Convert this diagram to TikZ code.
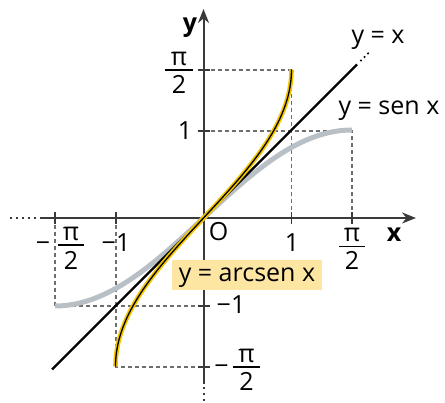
\documentclass[tikz,border=0pt]{standalone}
\usepackage{fontspec}
\setmainfont{Open Sans}
\usetikzlibrary{arrows.meta}
\definecolor{axisgray}{HTML}{3A3A3A}
\definecolor{guidegray}{HTML}{6E6E6E}
\definecolor{sinegray}{HTML}{B8BFC5}
\definecolor{arcyellow}{HTML}{F2C500}
\definecolor{labelyellow}{HTML}{FDE6A2}
\tikzset{
  axisline/.style={draw=axisgray, line width=2pt},
  axisdots/.style={draw=axisgray, line width=2pt, dash pattern=on 2pt off 4pt},
  guide/.style={draw=guidegray, line width=1.1pt, dash pattern=on 4pt off 3pt},
  tickmark/.style={draw=axisgray, line width=1.8pt},
  lbl/.style={inner sep=0pt, text=black},
  boldlbl/.style={inner sep=0pt, text=black, font=\fontsize{25}{29}\selectfont\bfseries},
  fracbar/.style={draw=black, line width=1.6pt},
  sinecurve/.style={draw=sinegray, line width=5pt},
  arccurve/.style={draw=arcyellow, line width=4.6pt},
  arccore/.style={draw=black, line width=1.3pt},
  idline/.style={draw=black, line width=2.2pt},
  iddots/.style={draw=black, line width=2.4pt, line cap=round, dash pattern=on 0pt off 5pt},
}
\begin{document}
\begin{tikzpicture}[x=1pt,y=-1pt,font=\fontsize{25}{29}\selectfont]
\useasboundingbox (0,0) rectangle (445,403);
% key points
\coordinate (O) at (203.5,218);
\coordinate (xa0) at (10,218);
\coordinate (xa1) at (37,218);
\coordinate (xa2) at (40,218);
\coordinate (xa3) at (416,218);
\coordinate (ya0) at (203.5,401);
\coordinate (ya1) at (203.5,387);
\coordinate (ya2) at (203.5,384);
\coordinate (ya3) at (203.5,9);
% guides
\coordinate (gA) at (203.5,70);
\coordinate (gB) at (291.5,70);
\coordinate (gC) at (291.5,218);
\coordinate (gD) at (203.5,131);
\coordinate (gE) at (352,131);
\coordinate (gF) at (352,218);
\coordinate (gG) at (55,218);
\coordinate (gH) at (55,306);
\coordinate (gI) at (203.5,306);
\coordinate (gJ) at (116,218);
\coordinate (gK) at (116,367);
\coordinate (gL) at (203.5,367);
\draw[guide] (gA) -- (gB) -- (gC);
\draw[guide] (gD) -- (gE) -- (gF);
\draw[guide] (gG) -- (gH) -- (gI);
\draw[guide] (gJ) -- (gK) -- (gL);
% axes
\draw[axisdots] (xa0) -- (xa1);
\draw[axisline,-{Stealth[length=14pt,width=11pt]}] (xa2) -- (xa3);
\draw[axisdots] (ya1) -- (ya0);
\draw[axisline,-{Stealth[length=14pt,width=11pt]}] (ya2) -- (ya3);
% ticks
\foreach \px in {55,116,291.5,352} \draw[tickmark] (\px,212) -- (\px,224);
\foreach \py in {70,131,306,367} \draw[tickmark] (197.5,\py) -- (209.5,\py);
% y = sen x
\draw[sinecurve] plot[domain=-148.5:148.5, samples=90, variable=\t] ({203.5+\t},{218-88*sin(\t*90/148.5)});
% y = x
\coordinate (l0) at (52,369.5);
\coordinate (l1) at (357,64.5);
\coordinate (l2) at (361,60.5);
\coordinate (l3) at (371,50.5);
\draw[idline] (l0) -- (l1);
\draw[iddots] (l2) -- (l3);
% y = arcsen x
\draw[arccurve] plot[domain=-148.5:148.5, samples=90, variable=\s] ({203.5+88*sin(\s*90/148.5)},{218-\s});
\draw[arccore] plot[domain=-148.5:148.5, samples=90, variable=\s] ({203.5+88*sin(\s*90/148.5)},{218-\s});
% axis labels
\node[boldlbl] (xl) at (394,235) {x};
\node[boldlbl] (yl) at (190,28) {y};
\node[lbl] (ol) at (218.5,232) {O};
\node[lbl] (one) at (292,242.5) {1};
\node[lbl] (yone) at (185,131) {1};
\node[lbl,anchor=base] (mone) at (116,252) {−1};
\node[lbl,anchor=base] (ymone) at (231,314) {−1};
% x-axis pi/2
\node[lbl,anchor=base] (p1n) at (352,242) {π};
\draw[fracbar] (339,246.5) -- (365,246.5);
\node[lbl,anchor=north] (p1d) at (352,251) {2};
% x-axis -pi/2
\node[lbl,anchor=base] (m1s) at (43,251.5) {−};
\node[lbl,anchor=base] (p2n) at (71,241) {π};
\draw[fracbar] (58,245) -- (84,245);
\node[lbl,anchor=north] (p2d) at (71,251) {2};
% y-axis pi/2
\node[lbl,anchor=base] (p3n) at (179,66) {π};
\draw[fracbar] (165,70) -- (193,70);
\node[lbl,anchor=north] (p3d) at (179,75) {2};
% y-axis -pi/2
\node[lbl,anchor=base] (m4s) at (221.5,375) {−};
\node[lbl,anchor=base] (p4n) at (246.5,363) {π};
\draw[fracbar] (233,367) -- (260,367);
\node[lbl,anchor=north] (p4d) at (246.5,372) {2};
% curve labels
\node[lbl,anchor=base] (lx) at (378,44) {y = x};
\node[lbl,anchor=base] (ls) at (389,115) {y = sen x};
\node[lbl,fill=labelyellow,minimum width=150pt,text height=22pt,text depth=8pt] (la) at (247,275) {y = arcsen x};
\end{tikzpicture}
\end{document}
